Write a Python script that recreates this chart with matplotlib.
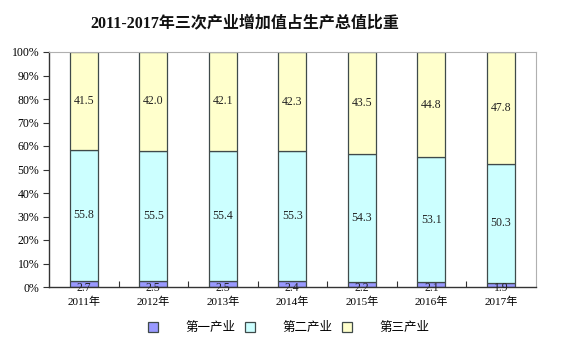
import matplotlib.pyplot as plt
import numpy as np
from matplotlib.ticker import FuncFormatter, FixedLocator

plt.rcParams['font.family'] = ['Liberation Serif', 'Noto Sans CJK SC', 'DejaVu Sans']

years = ['2011年', '2012年', '2013年', '2014年', '2015年', '2016年', '2017年']
primary = [2.7, 2.5, 2.5, 2.4, 2.2, 2.1, 1.9]
secondary = [55.8, 55.5, 55.4, 55.3, 54.3, 53.1, 50.3]
tertiary = [41.5, 42.0, 42.1, 42.3, 43.5, 44.8, 47.8]
series_names = ['第一产业', '第二产业', '第三产业']

colors = ['#9999FF', '#CCFFFF', '#FFFFCC']
edge = '#3f4a4a'

fig = plt.figure(figsize=(5.69, 3.57), dpi=100)
ax = fig.add_axes([49 / 569, 1 - 287 / 357, 486.6 / 569, 235 / 357])

x = np.arange(len(years))
w = 0.40
p = np.array(primary)
s = np.array(secondary)
t = np.array(tertiary)

b1 = ax.bar(x, p, w, color=colors[0], edgecolor=edge, linewidth=0.9, label=series_names[0])
b2 = ax.bar(x, s, w, bottom=p, color=colors[1], edgecolor=edge, linewidth=0.9, label=series_names[1])
b3 = ax.bar(x, t, w, bottom=p + s, color=colors[2], edgecolor=edge, linewidth=0.9, label=series_names[2])

# 数値ラベル
for i in range(len(years)):
    ax.text(x[i], -0.6, f'{p[i]:.1f}', ha='center', va='center', fontsize=8.5, color='#222222')
    ax.text(x[i], p[i] + s[i] / 2, f'{s[i]:.1f}', ha='center', va='center', fontsize=8.5, color='#222222')
    ax.text(x[i], p[i] + s[i] + t[i] / 2, f'{t[i]:.1f}', ha='center', va='center', fontsize=8.5, color='#222222')

ax.set_xlim(-0.5, len(years) - 0.5)
ax.set_ylim(0, 100)
ax.set_yticks(np.arange(0, 101, 10))
ax.yaxis.set_major_formatter(FuncFormatter(lambda v, pos: f'{int(v)}%'))
ax.tick_params(axis='y', direction='out', length=4, width=0.8, labelsize=8.5, pad=3, color='#333333')

ax.set_xticks(x)
ax.set_xticklabels(years, fontsize=8)
ax.tick_params(axis='x', length=0, pad=7)
ax.xaxis.set_minor_locator(FixedLocator(np.arange(0.5, len(years) - 1, 1)))
ax.tick_params(axis='x', which='minor', direction='in', length=4, width=0.8, color='#333333')

for side in ['left', 'bottom']:
    ax.spines[side].set_color('#333333')
    ax.spines[side].set_linewidth(1.0)
for side in ['top', 'right']:
    ax.spines[side].set_color('#b0b0b0')
    ax.spines[side].set_linewidth(0.8)

fig.text(245 / 569, 1 - 23 / 357, '2011-2017年三次产业增加值占生产总值比重',
         ha='center', va='center', fontsize=11.5, fontweight='bold', color='#111111')

fig.legend(handles=[b1, b2, b3], labels=series_names, loc='center',
           bbox_to_anchor=(289 / 569, 1 - 328 / 357), ncol=3, frameon=False,
           fontsize=9, handlelength=0.8, handleheight=0.8, handletextpad=2.2,
           columnspacing=0.75)

plt.savefig('out.png', dpi=100)
